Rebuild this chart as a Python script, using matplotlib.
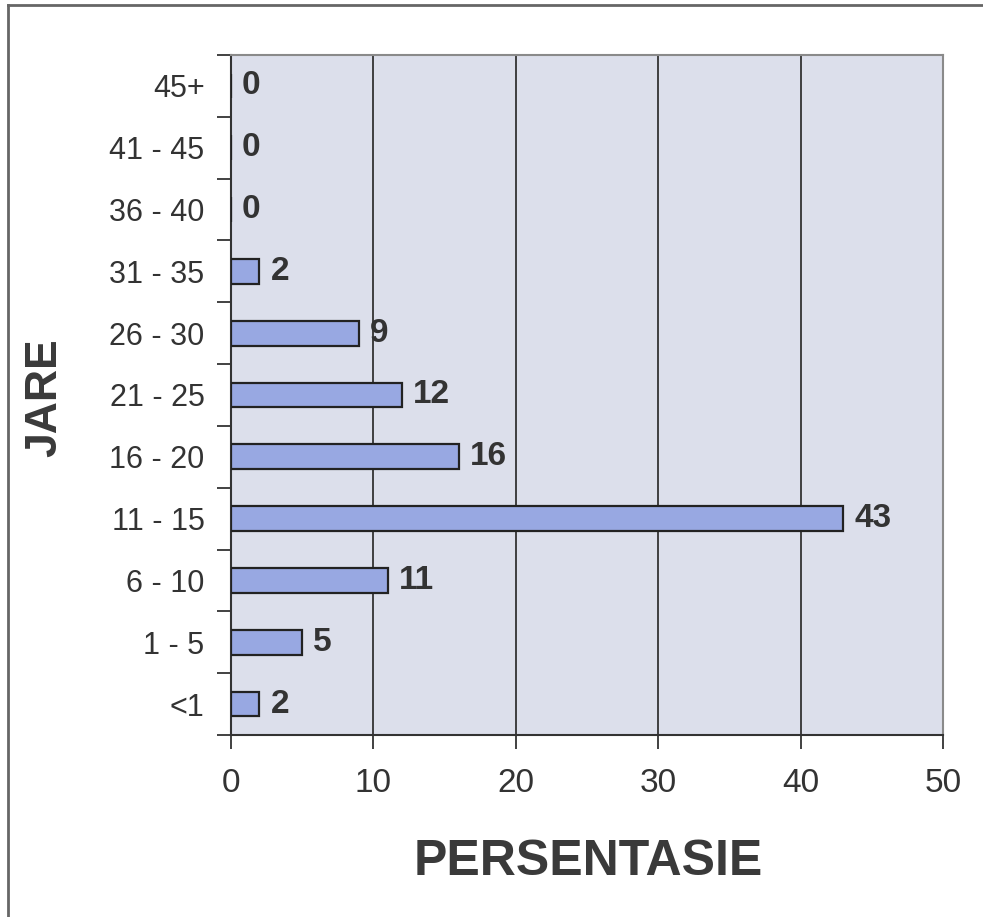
import numpy as np
import matplotlib

matplotlib.use("Agg")
from matplotlib import pyplot as plt
from matplotlib.lines import Line2D

# Age groups (bottom to top) and percentages
categories = ["<1", "1 - 5", "6 - 10", "11 - 15", "16 - 20", "21 - 25",
              "26 - 30", "31 - 35", "36 - 40", "41 - 45", "45+"]
values = [2, 5, 11, 43, 16, 12, 9, 2, 0, 0, 0]
x_ticks = [0, 10, 20, 30, 40, 50]

plt.rcParams["font.family"] = ["Liberation Sans", "DejaVu Sans"]
text_color = "#333333"

fig = plt.figure(figsize=(9.83, 9.17), dpi=100)
ax = fig.add_axes([0.235, 0.1985, 0.7243, 0.7415])
ax.set_facecolor("#DCDFEB")

y = np.arange(len(categories))
ax.barh(y, values, height=0.4, color="#98A8E2", edgecolor="#222222",
        linewidth=1.6, zorder=3)

# value labels right of the bars
for yi, v in zip(y, values):
    ax.annotate(str(v), (v, yi), xytext=(8, 0), textcoords="offset points",
                va="center", ha="left", fontsize=24, fontweight="bold",
                color=text_color, zorder=4)

ax.set_xlim(0, 50)
ax.set_ylim(-0.5, len(categories) - 0.5)
ax.set_xticks(x_ticks)
ax.set_xticklabels([str(t) for t in x_ticks], fontsize=24, color=text_color)
ax.set_yticks(y)
ax.set_yticklabels(categories, fontsize=22, color=text_color)
# ticks sit between categories, labels at centres
ax.set_yticks(np.arange(len(categories) + 1) - 0.5, minor=True)
ax.tick_params(axis="y", which="major", length=0, pad=19)
ax.tick_params(axis="y", which="minor", length=10, width=1.3, color="#333333")
ax.tick_params(axis="x", length=10, width=1.3, color="#333333", pad=14)

ax.grid(axis="x", color="#333333", linewidth=1.3, zorder=1)
ax.set_axisbelow(True)

for side in ["top", "right"]:
    ax.spines[side].set_color("#8a8a8a")
    ax.spines[side].set_linewidth(1.5)
for side in ["left", "bottom"]:
    ax.spines[side].set_color("#333333")
    ax.spines[side].set_linewidth(1.5)

fig.text(0.598, 0.06, "PERSENTASIE", ha="center", va="center", fontsize=36,
         fontweight="bold", color="#3a3a3a")
fig.text(0.046, 0.566, "JARE", ha="center", va="center", rotation=90,
         fontsize=32, fontweight="bold", color="#3a3a3a")

# outer frame (runs off the right and bottom edges)
fig.add_artist(Line2D([0.0085, 0.0085], [0.0, 0.9945], color="#666666",
                      linewidth=2, transform=fig.transFigure))
fig.add_artist(Line2D([0.0085, 1.0], [0.9945, 0.9945], color="#666666",
                      linewidth=2, transform=fig.transFigure))

fig.savefig("out.png", dpi=100, facecolor="white")
